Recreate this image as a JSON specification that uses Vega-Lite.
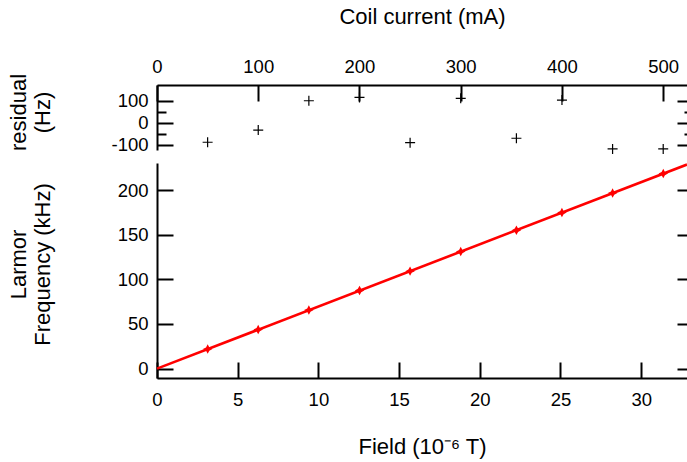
{
  "$schema": "https://vega.github.io/schema/vega-lite/v6.json",
  "padding": {"left": 7, "top": 5, "right": 0, "bottom": 4},
  "background": "white",
  "config": {
    "view": {"stroke": null},
    "axis": {
      "grid": false,
      "domainColor": "black",
      "domainWidth": 2,
      "tickColor": "black",
      "tickWidth": 2,
      "labelFont": "Liberation Sans",
      "labelFontSize": 18.5,
      "labelColor": "black",
      "labelFlush": false,
      "labelOverlap": false,
      "labelExpr": "replace(datum.label, '−', '-')",
      "titleFont": "Liberation Sans",
      "titleFontSize": 22,
      "titleFontWeight": "normal",
      "titleColor": "black"
    }
  },
  "datasets": {
    "resid": [
      {"current": 50, "residual": -88},
      {"current": 100, "residual": -33},
      {"current": 150, "residual": 99},
      {"current": 200, "residual": 114},
      {"current": 250, "residual": -90},
      {"current": 300, "residual": 110},
      {"current": 355, "residual": -70},
      {"current": 400, "residual": 102},
      {"current": 450, "residual": -118},
      {"current": 500, "residual": -118}
    ],
    "larmor": [
      {"field": 3.14, "freq": 21.9},
      {"field": 6.27, "freq": 43.7},
      {"field": 9.41, "freq": 65.6},
      {"field": 12.55, "freq": 87.5},
      {"field": 15.68, "freq": 109.2},
      {"field": 18.82, "freq": 131.1},
      {"field": 22.27, "freq": 155.0},
      {"field": 25.09, "freq": 174.8},
      {"field": 28.23, "freq": 196.6},
      {"field": 31.37, "freq": 218.5}
    ],
    "fit": [
      {"field": 0, "freq": 0},
      {"field": 32.84, "freq": 228.6}
    ]
  },
  "bounds": "flush",
  "spacing": 13,
  "vconcat": [
    {
      "width": 530,
      "height": 65,
      "data": {"name": "resid"},
      "resolve": {"axis": {"y": "independent"}},
      "encoding": {
        "x": {
          "field": "current", "type": "quantitative",
          "scale": {"domain": [0, 523.5], "nice": false, "zero": false},
          "axis": {
            "orient": "top",
            "values": [0, 100, 200, 300, 400, 500],
            "tickSize": -16,
            "labelPadding": 29,
            "labelBaseline": "alphabetic",
            "title": "Coil current (mA)",
            "titleBaseline": "alphabetic",
            "titleY": -62
          }
        }
      },
      "layer": [
        {
          "mark": {"type": "point", "shape": "M-1,0L1,0M0,-1L0,1", "size": 100, "filled": false, "stroke": "black", "strokeWidth": 1.2, "opacity": 1},
          "encoding": {
            "y": {
              "field": "residual", "type": "quantitative",
              "scale": {"domain": [-123, 170], "nice": false, "zero": false},
              "axis": {
                "orient": "left",
                "values": [-100, 0, 100],
                "tickSize": -16,
                "labelPadding": 25,
                "title": ["residual", "(Hz)"],
                "titleBaseline": "middle",
                "titleLineHeight": 24,
                "titleX": -138.5,
                "titleY": 27
              }
            }
          }
        },
        {
          "mark": {"type": "point", "opacity": 0},
          "encoding": {
            "y": {
              "field": "residual", "type": "quantitative",
              "axis": {"orient": "left", "values": [-50, 50], "tickSize": -9, "labels": false, "domain": false, "title": null}
            }
          }
        },
        {
          "mark": {"type": "point", "opacity": 0},
          "encoding": {
            "y": {
              "field": "residual", "type": "quantitative",
              "axis": {"orient": "right", "values": [-100, 0, 100], "tickSize": -10, "labels": false, "domain": false, "title": null}
            }
          }
        },
        {
          "mark": {"type": "point", "opacity": 0},
          "encoding": {
            "y": {
              "field": "residual", "type": "quantitative",
              "axis": {"orient": "right", "values": [-50, 50], "tickSize": -3, "labels": false, "domain": false, "title": null}
            }
          }
        }
      ]
    },
    {
      "width": 530,
      "height": 215,
      "resolve": {"axis": {"y": "independent"}},
      "encoding": {
        "x": {
          "field": "field", "type": "quantitative",
          "scale": {"domain": [0, 32.84], "nice": false, "zero": false},
          "axis": {
            "orient": "bottom",
            "values": [0, 5, 10, 15, 20, 25, 30],
            "tickSize": -16,
            "labelPadding": 43.7,
            "labelBaseline": "alphabetic",
            "title": "Field (10⁻⁶ T)",
            "titleBaseline": "alphabetic",
            "titleY": 75
          }
        }
      },
      "layer": [
        {
          "data": {"name": "fit"},
          "mark": {"type": "line", "color": "#ff0000", "strokeWidth": 2.6},
          "encoding": {
            "y": {
              "field": "freq", "type": "quantitative",
              "scale": {"domain": [-10.5, 230.3], "nice": false, "zero": false},
              "axis": {
                "orient": "left",
                "values": [0, 50, 100, 150, 200],
                "tickSize": -16,
                "labelPadding": 25,
                "title": ["Larmor", "Frequency (kHz)"],
                "titleBaseline": "middle",
                "titleLineHeight": 24,
                "titleX": -138.5,
                "titleY": 101
              }
            }
          }
        },
        {
          "data": {"name": "larmor"},
          "mark": {"type": "point", "shape": "M0,-1L0.35,-0.35L1,0L0.35,0.35L0,1L-0.35,0.35L-1,0L-0.35,-0.35Z", "size": 90, "filled": true, "color": "#ff0000", "opacity": 1},
          "encoding": {
            "y": {
              "field": "freq", "type": "quantitative",
              "axis": {"orient": "right", "values": [0, 50, 100, 150, 200], "tickSize": -10, "labels": false, "domain": false, "title": null}
            }
          }
        }
      ]
    }
  ]
}
